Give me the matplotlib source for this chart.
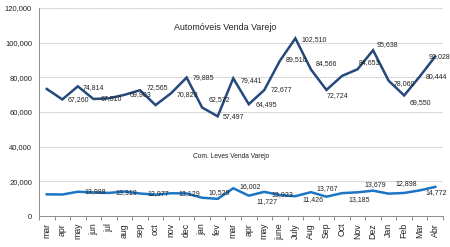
import matplotlib
matplotlib.use("Agg")
import matplotlib.pyplot as plt
from matplotlib.ticker import FuncFormatter, FixedLocator

plt.rcParams["font.family"] = ["Liberation Sans", "DejaVu Sans"]

# ── Data ──────────────────────────────────────────────────────────────────────
MONTHS = ["mar", "apr", "may", "jun", "jul", "aug", "sep", "oct", "nov", "dec",
          "jan", "fev", "mar", "apr", "may", "june", "July", "Aug", "Sep", "Oct",
          "Nov", "Dez", "Jan", "Feb", "Mar", "Abr"]

AUTO = [73300, 67260, 74814, 67510, 67900, 69903, 72565, 64000, 70820, 79885,
        62572, 57497, 79441, 64495, 72677, 89510, 102510, 84566, 72724, 80800,
        84653, 95638, 78060, 69550, 80444, 92028]

COM = [12500, 12400, 13988, 13600, 13319, 14100, 12977, 12300, 13129, 13000,
       10529, 9900, 16002, 11727, 13923, 12100, 11426, 13767, 11150, 13185,
       13679, 14600, 12898, 13300, 14772, 16800]

# which points carry a data label, with label offset in pixels (dx, dy down)
AUTO_LABELS = {1: (5, 0), 2: (5, 1), 3: (7, 0), 5: (5, 0), 6: (7, -3),
               8: (6, 1), 9: (6, 0), 10: (6, -8), 11: (5, 0), 12: (7, 2),
               13: (7, 0), 14: (6, 0), 15: (6, -1), 16: (6, 1), 17: (5, -6),
               18: (0, 6), 20: (1, -7), 21: (4, -6), 22: (5, 3), 23: (5, 7),
               24: (6, 0), 25: (-7, 0)}
COM_LABELS = {2: (7, 0), 4: (7, 0), 6: (7, 0), 8: (7, 0), 10: (6, -5),
              12: (6, -2), 13: (8, 6), 14: (7, 3), 16: (7, 3), 17: (6, -4),
              19: (6, 6), 20: (7, -8), 22: (7, -10), 24: (6, 2)}

AUTO_COLOR = "#24497A"
COM_COLOR = "#1C75C4"
AXIS_COLOR = "#8C8C8C"

# ── Figure ────────────────────────────────────────────────────────────────────
fig = plt.figure(figsize=(4.5, 2.47), dpi=100)
ax = fig.add_axes([39 / 450, 1 - 216 / 247, 404 / 450, 208 / 247])

x = list(range(len(MONTHS)))
ax.plot(x, AUTO, color=AUTO_COLOR, linewidth=1.8, solid_joinstyle="miter")
ax.plot(x, COM, color=COM_COLOR, linewidth=1.8, solid_joinstyle="miter")

for vals, labels in ((AUTO, AUTO_LABELS), (COM, COM_LABELS)):
    for i, (dx, dy) in labels.items():
        ax.annotate(f"{vals[i]:,}", (i, vals[i]), xytext=(dx, -dy),
                    textcoords="offset pixels", ha="left", va="center",
                    fontsize=5.0, color="#222222")

ax.set_xlim(-0.5, len(MONTHS) - 0.5)
ax.set_ylim(0, 120000)
ax.set_yticks(range(0, 120001, 20000))
ax.yaxis.set_major_formatter(FuncFormatter(lambda v, p: f"{int(v):,}"))
ax.tick_params(axis="y", length=0, pad=5, labelsize=5.5, colors="#222222")

ax.set_xticks(x)
ax.set_xticklabels(MONTHS, rotation=90, fontsize=6.3)
ax.tick_params(axis="x", which="major", length=0, pad=5, colors="#222222")
ax.xaxis.set_minor_locator(FixedLocator([i - 0.5 for i in range(len(MONTHS) + 1)]))
ax.tick_params(axis="x", which="minor", length=3, width=0.7, color=AXIS_COLOR)

for v in range(20000, 120001, 20000):
    ax.axhline(v, color="#A6A6A6", linewidth=0.6, linestyle=(0, (1, 1)), zorder=0)

for s in ("top", "right"):
    ax.spines[s].set_visible(False)
for s in ("left", "bottom"):
    ax.spines[s].set_color(AXIS_COLOR)
    ax.spines[s].set_linewidth(0.7)

fig.text(225 / 450, 1 - 27 / 247, "Automóveis Venda Varejo", ha="center",
         va="center", fontsize=6.4, color="#222222")
fig.text(231 / 450, 1 - 157 / 247, "Com. Leves Venda Varejo", ha="center",
         va="center", fontsize=4.8, color="#222222")

fig.savefig("out.png", dpi=100)
